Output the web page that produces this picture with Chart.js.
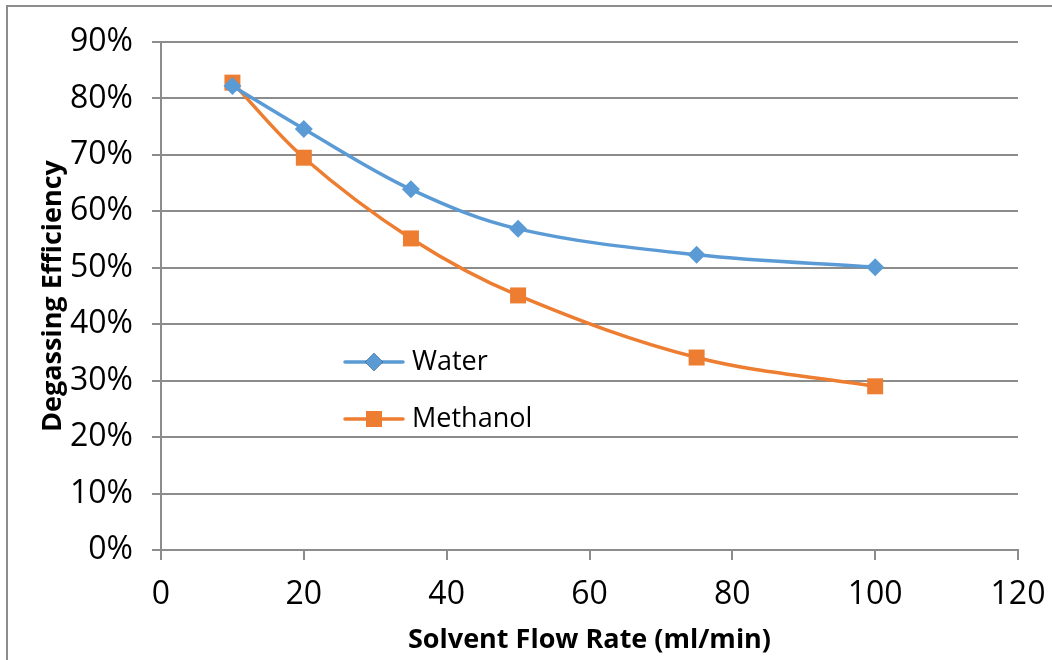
<!DOCTYPE html>
<html>
<head>
<meta charset="utf-8">
<script src="https://cdn.jsdelivr.net/npm/chart.js@4.4.1/dist/chart.umd.min.js"></script>
<style>
  html, body { margin: 0; padding: 0; background: #fff; }
  #wrap { position: relative; width: 1052px; height: 660px; overflow: hidden; }
  #wrap canvas { position: absolute; left: 0; top: 0; }
  #frame { position: absolute; left: 6px; top: 5px; right: -10px; bottom: -10px; border: 2px solid #8c8c8c; pointer-events: none; }
</style>
</head>
<body>
<div id="wrap">
  <canvas id="grafico" width="1052" height="660"></canvas>
  <div id="frame"></div>
</div>
<script>
// datos
const flujo = [10, 20, 35, 50, 75, 100];
const agua = [82.2, 74.6, 63.9, 56.9, 52.3, 50.1];
const metanol = [82.8, 69.5, 55.2, 45.1, 34.1, 29.0];
const nombres = ['Water', 'Methanol'];
const yTicks = [0, 10, 20, 30, 40, 50, 60, 70, 80, 90];

const AZUL = '#5b9bd5';
const NARANJA = '#ed7d31';
const GRIS = '#8c8c8c';
const FUENTE = "'Open Sans', 'Noto Sans', sans-serif";

const puntos = (xs, ys) => xs.map((x, i) => ({ x: x, y: ys[i] }));

// leyenda dibujada dentro del área del gráfico
const leyendaInterna = {
    id: 'leyendaInterna',
    afterDatasetsDraw(chart) {
        const ctx = chart.ctx;
        const filas = [{ y: 362 }, { y: 419 }];
        chart.data.datasets.forEach((ds, i) => {
            const y = filas[i].y;
            ctx.save();
            ctx.strokeStyle = ds.borderColor;
            ctx.lineWidth = ds.borderWidth;
            ctx.lineCap = 'round';
            ctx.beginPath();
            ctx.moveTo(345, y);
            ctx.lineTo(403, y);
            ctx.stroke();
            Chart.helpers.drawPoint(ctx, {
                pointStyle: ds.pointStyle,
                radius: ds.pointRadius,
                rotation: 0,
                borderWidth: 0
            }, 374, y);
            ctx.fillStyle = ds.backgroundColor;
            ctx.fill();
            ctx.fillStyle = '#000';
            ctx.font = "27px " + FUENTE;
            ctx.textBaseline = 'middle';
            ctx.textAlign = 'left';
            ctx.fillText(ds.label, 412, y);
            ctx.restore();
        });
    }
};

new Chart(document.getElementById('grafico'), {
    type: 'line',
    data: {
        datasets: [
            {
                label: nombres[0],
                data: puntos(flujo, agua),
                borderColor: AZUL,
                backgroundColor: AZUL,
                borderWidth: 3.5,
                pointStyle: 'rectRot',
                pointRadius: 9,
                pointHoverRadius: 9,
                pointBorderWidth: 0,
                tension: 0.35
            },
            {
                label: nombres[1],
                data: puntos(flujo, metanol),
                borderColor: NARANJA,
                backgroundColor: NARANJA,
                borderWidth: 3.5,
                pointStyle: 'rect',
                pointRadius: 11.3,
                pointHoverRadius: 11.3,
                pointBorderWidth: 0,
                tension: 0.35
            }
        ]
    },
    options: {
        responsive: false,
        animation: false,
        layout: { padding: { left: 8, top: 42, right: 34, bottom: 0 } },
        plugins: {
            legend: { display: false },
            tooltip: { enabled: false }
        },
        scales: {
            x: {
                type: 'linear',
                min: 0,
                max: 120,
                ticks: { stepSize: 20, color: '#000', font: { family: FUENTE, size: 32 }, padding: 16 },
                grid: { drawOnChartArea: false, drawTicks: true, tickLength: 10, color: GRIS, lineWidth: 2 },
                border: { display: true, color: GRIS, width: 2 },
                title: {
                    display: true,
                    text: 'Solvent Flow Rate (ml/min)',
                    color: '#000',
                    font: { family: FUENTE, size: 27, weight: 'bold' },
                    padding: { top: 0, bottom: 3 }
                },
                afterFit: s => { s.height = 110; s.paddingRight = 0; s.paddingLeft = 0; }
            },
            y: {
                min: 0,
                max: 90,
                afterBuildTicks: s => { s.ticks = yTicks.map(v => ({ value: v })); },
                ticks: {
                    color: '#000',
                    font: { family: FUENTE, size: 32 },
                    padding: 19,
                    callback: v => v + '%'
                },
                grid: { color: GRIS, lineWidth: 2, tickLength: 9 },
                border: { display: true, color: GRIS, width: 2 },
                title: {
                    display: true,
                    text: 'Degassing Efficiency',
                    color: '#000',
                    font: { family: FUENTE, size: 27, weight: 'bold' },
                    padding: { top: 29, bottom: 0 }
                },
                afterFit: s => { s.width = 153; }
            }
        }
    },
    plugins: [leyendaInterna]
});
</script>
</body>
</html>
